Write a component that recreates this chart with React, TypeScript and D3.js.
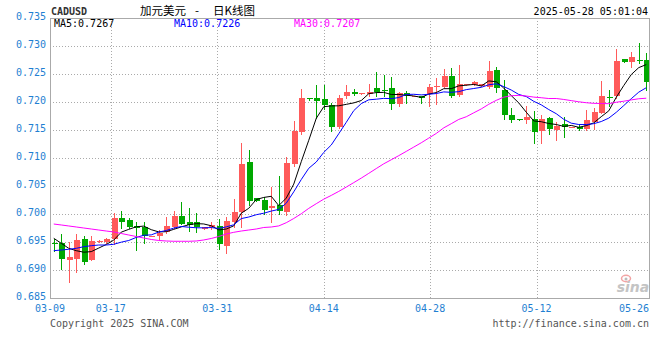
import React from "react";
import * as d3 from "d3";

// ---- data (daily bars, calendar days starting 2025-03-09) ----
const startDate = new Date(2025, 2, 9);
const opens = [
  0.6948, 0.6948, 0.6918, 0.6920, 0.6955, 0.6918, 0.6950, 0.6950, 0.6955, 0.6993,
  0.6989, 0.6979, 0.6977, 0.6961, 0.6961, 0.6967, 0.6977, 0.6996, 0.6986, 0.6985,
  0.6974, 0.6977, 0.6979, 0.6942, 0.6986, 0.7004, 0.7093, 0.7028, 0.7025, 0.7010,
  0.7016, 0.7004, 0.7089, 0.7146, 0.7207, 0.7207, 0.7205, 0.7195, 0.7156, 0.7210,
  0.7218, 0.7215, 0.7214, 0.7225, 0.7221, 0.7225, 0.7196, 0.7216, 0.7211, 0.7211,
  0.7214, 0.7226, 0.7227, 0.7246, 0.7213, 0.7231, 0.7230, 0.7229, 0.7227, 0.7257,
  0.7221, 0.7177, 0.7170, 0.7167, 0.7170, 0.7149, 0.7171, 0.7150, 0.7161, 0.7156,
  0.7156, 0.7152, 0.7165, 0.7181, 0.7209, 0.7210, 0.7277, 0.7272, 0.7275, 0.7275,
];
const highs = [
  0.6955, 0.6965, 0.6950, 0.6964, 0.6961, 0.6960, 0.6953, 0.6958, 0.7001, 0.7006,
  0.6993, 0.6985, 0.6985, 0.6961, 0.6971, 0.6995, 0.7006, 0.7022, 0.7011, 0.7001,
  0.6977, 0.6986, 0.6991, 0.6995, 0.7027, 0.7127, 0.7114, 0.7029, 0.7031, 0.7048,
  0.7068, 0.7101, 0.7166, 0.7223, 0.7208, 0.7230, 0.7230, 0.7198, 0.7213, 0.7230,
  0.7223, 0.7216, 0.7232, 0.7254, 0.7248, 0.7245, 0.7218, 0.7220, 0.7211, 0.7211,
  0.7232, 0.7242, 0.7259, 0.7260, 0.7266, 0.7232, 0.7238, 0.7232, 0.7273, 0.7263,
  0.7239, 0.7189, 0.7170, 0.7193, 0.7184, 0.7177, 0.7173, 0.7165, 0.7173, 0.7156,
  0.7159, 0.7185, 0.7189, 0.7238, 0.7221, 0.7295, 0.7277, 0.7289, 0.7305, 0.7288,
];
const lows = [
  0.6934, 0.6902, 0.6879, 0.6896, 0.6911, 0.6917, 0.6950, 0.6948, 0.6946, 0.6975,
  0.6975, 0.6936, 0.6949, 0.6961, 0.6955, 0.6966, 0.6975, 0.6982, 0.6970, 0.6967,
  0.6973, 0.6973, 0.6938, 0.6930, 0.6977, 0.6976, 0.7016, 0.7023, 0.7000, 0.6986,
  0.7000, 0.6998, 0.7085, 0.7143, 0.7204, 0.7171, 0.7187, 0.7149, 0.7153, 0.7208,
  0.7213, 0.7214, 0.7211, 0.7210, 0.7210, 0.7187, 0.7193, 0.7198, 0.7211, 0.7199,
  0.7192, 0.7196, 0.7227, 0.7209, 0.7210, 0.7231, 0.7230, 0.7229, 0.7225, 0.7218,
  0.7170, 0.7165, 0.7167, 0.7162, 0.7127, 0.7127, 0.7143, 0.7133, 0.7138, 0.7156,
  0.7150, 0.7150, 0.7151, 0.7180, 0.7193, 0.7207, 0.7272, 0.7263, 0.7270, 0.7221,
];
const closes = [
  0.6947, 0.6920, 0.6923, 0.6954, 0.6915, 0.6952, 0.6952, 0.6955, 0.6993, 0.6986,
  0.6977, 0.6975, 0.6961, 0.6961, 0.6966, 0.6979, 0.6996, 0.6983, 0.6980, 0.6976,
  0.6976, 0.6980, 0.6946, 0.6988, 0.7004, 0.7089, 0.7024, 0.7024, 0.7007, 0.7014,
  0.7006, 0.7091, 0.7149, 0.7207, 0.7205, 0.7202, 0.7195, 0.7156, 0.7208, 0.7218,
  0.7215, 0.7216, 0.7217, 0.7218, 0.7220, 0.7196, 0.7216, 0.7211, 0.7211, 0.7207,
  0.7226, 0.7229, 0.7246, 0.7211, 0.7232, 0.7232, 0.7236, 0.7232, 0.7256, 0.7225,
  0.7176, 0.7168, 0.7167, 0.7173, 0.7147, 0.7169, 0.7152, 0.7158, 0.7156, 0.7156,
  0.7152, 0.7167, 0.7183, 0.7211, 0.7208, 0.7273, 0.7272, 0.7281, 0.7273, 0.7235,
];

// moving-average values before a full window exists
const ma5Lead = [0.69566, 0.69477, 0.69387, 0.69345];
const ma10Lead = [0.69345, 0.69357, 0.6937, 0.69387, 0.69416, 0.69434, 0.69446, 0.69446, 0.69459];
const ma30Lead = [
  0.69821, 0.69804, 0.69786, 0.69768, 0.6975, 0.69732, 0.69714, 0.69696, 0.69679,
  0.69652, 0.69625, 0.69598, 0.69571, 0.69545, 0.69527, 0.69518, 0.69513, 0.69513,
  0.69513, 0.69518, 0.69536, 0.69563, 0.69598, 0.69643, 0.69673, 0.69696, 0.69714,
  0.69732, 0.69759,
];
const maLabels = ["MA5", "MA10", "MA30"];
const maLegendValues = [0.7267, 0.7226, 0.7207];
const maColors = ["#000000", "#0000ff", "#ff00ff"];

const yTicks = [0.685, 0.69, 0.695, 0.7, 0.705, 0.71, 0.715, 0.72, 0.725, 0.73, 0.735];
const xTickLabels = ["03-09", "03-17", "03-31", "04-14", "04-28", "05-12", "05-26"];
const titleParts = ["加元美元", "-", "日K线图"];

const W = 660;
const H = 360;
const L = 50;
const R = 650;
const T = 18;
const B = 298;
const MONO = "'DejaVu Sans Mono', monospace";
const CJK = "'Noto Sans CJK SC', sans-serif";
const UP = "#ff5a5a";
const DOWN = "#00a800";
const AXIS_BLUE = "#1f7fd2";

function movingAverage(vals: number[], n: number, lead: number[]) {
  return vals.map((_, i) => (i < n - 1 ? lead[i] : (d3.mean(vals.slice(i - n + 1, i + 1)) as number)));
}

export default function App() {
  const idx = d3.range(closes.length);
  const x = d3.scaleBand<number>().domain(idx).range([L, R]).padding(0);
  const bw = x.bandwidth();
  const y = d3.scaleLinear().domain([0.685, 0.735]).range([B, T]);
  const parse = d3.timeParse("%Y-%m-%d");
  const tickDates = xTickLabels.map((s) => parse("2025-" + s) as Date);
  const xt = d3.scaleTime().domain([tickDates[0], tickDates[tickDates.length - 1]]).range([L, 643]);
  void startDate;

  const mas = [
    movingAverage(closes, 5, ma5Lead),
    movingAverage(closes, 10, ma10Lead),
    movingAverage(closes, 30, ma30Lead),
  ];
  const line = d3
    .line<number>()
    .x((_, i) => (x(i) as number) + bw / 2)
    .y((d) => y(d));

  return (
    <svg
      width={W}
      height={H}
      style={{ position: "absolute", left: 0, top: 0, background: "#fff" }}
      fontFamily={MONO}
    >
      <rect x={0} y={0} width={W} height={H} fill="#fff" />
      {/* header */}
      <text x={51} y={15} fontSize={10} fontWeight="bold" fill="#333">CADUSD</text>
      <text x={140} y={15} fontSize={11.5} fill="#000" fontFamily={CJK}>{titleParts[0]}</text>
      <text x={197} y={15} fontSize={11.5} fill="#000" textAnchor="middle" fontFamily={CJK}>{titleParts[1]}</text>
      <text x={213} y={15} fontSize={11.5} fill="#000" fontFamily={CJK}>{titleParts[2]}</text>
      <text x={648} y={15} fontSize={10} textAnchor="end" fill="#000">2025-05-28 05:01:04</text>

      {/* grid */}
      {yTicks.slice(1, -1).map((t) => (
        <line key={"gy" + t} x1={L} x2={R} y1={Math.round(y(t)) + 0.5} y2={Math.round(y(t)) + 0.5}
          stroke="#aaa" strokeDasharray="1 2" />
      ))}
      {tickDates.slice(1, -1).map((d, i) => (
        <line key={"gx" + i} y1={T} y2={B} x1={Math.round(xt(d)) + 0.5} x2={Math.round(xt(d)) + 0.5}
          stroke="#aaa" strokeDasharray="1 2" />
      ))}

      {/* watermark */}
      <g>
        <ellipse cx={626} cy={278.5} rx={4.5} ry={3.2} fill="none" stroke="#f2a4a4" strokeWidth={1.5} />
        <circle cx={626} cy={279} r={1.5} fill="#bbb" />
        <text x={633} y={292} fontSize={14} fontStyle="italic" fontWeight="bold" textAnchor="middle"
          fill="#c4c4c4" fontFamily="'DejaVu Sans', sans-serif">sina</text>
      </g>

      {/* candles */}
      {idx.map((i) => {
        const o = opens[i], c = closes[i], h = highs[i], l = lows[i];
        const color = c >= o ? UP : DOWN;
        const cx = Math.round((x(i) as number) + bw / 2);
        const top = Math.round(y(Math.max(o, c)));
        const bot = Math.round(y(Math.min(o, c)));
        return (
          <g key={"c" + i} shapeRendering="crispEdges">
            <line x1={cx + 0.5} x2={cx + 0.5} y1={Math.round(y(h))} y2={Math.round(y(l)) + 1} stroke={color} />
            <rect x={cx - 2} y={top} width={6} height={Math.max(1, bot - top)} fill={color} />
          </g>
        );
      })}

      {/* moving averages */}
      {mas.map((m, k) => (
        <path key={"ma" + k} d={line(m) as string} fill="none" stroke={maColors[k]} strokeWidth={1} />
      ))}

      {/* frame */}
      <rect x={L + 0.5} y={T + 0.5} width={R - L - 1} height={B - T} fill="none" stroke="#aaa" />

      {/* legend */}
      {maLabels.map((lab, k) => (
        <text key={"lg" + k} x={54 + k * 120} y={27} fontSize={10} fill={maColors[k]}>
          {lab + ":" + maLegendValues[k].toFixed(4)}
        </text>
      ))}

      {/* y axis */}
      {yTicks.map((t) => (
        <text key={"yl" + t} x={46} y={y(t) + 2} fontSize={10} textAnchor="end" fill={AXIS_BLUE}>
          {t.toFixed(3)}
        </text>
      ))}

      {/* x axis */}
      {tickDates.map((d, i) => {
        const last = i === tickDates.length - 1;
        return (
          <text key={"xl" + i} x={last ? 649 : xt(d)} y={312} fontSize={10}
            textAnchor={last ? "end" : "middle"} fill={AXIS_BLUE}>
            {xTickLabels[i]}
          </text>
        );
      })}

      {/* footer */}
      <text x={50} y={327} fontSize={10} fill="#555">Copyright 2025 SINA.COM</text>
      <text x={649} y={327} fontSize={10} textAnchor="end" fill="#555">http://finance.sina.com.cn</text>
    </svg>
  );
}
